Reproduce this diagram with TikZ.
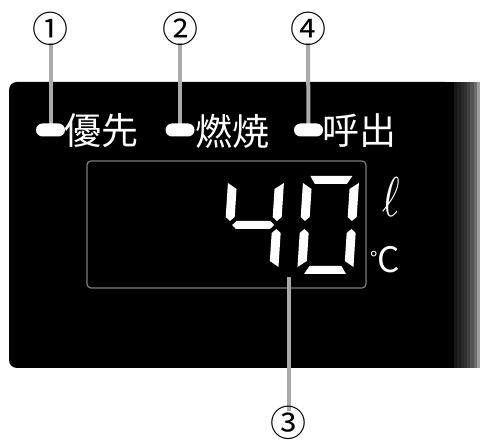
\documentclass[tikz,border=0pt]{standalone}
\usepackage{fontspec}
\newfontfamily\jpfont{Noto Sans CJK JP}
\definecolor{leadgray}{RGB}{170,170,170}
\definecolor{boxgray}{RGB}{125,125,125}
\tikzset{
  lead/.style={draw=leadgray, line width=4pt},
  pill/.style={fill=white, rounded corners=6.5pt, minimum width=29pt, minimum height=13pt, inner sep=0pt},
  label/.style={text=white, font=\jpfont\fontsize{37}{37}\selectfont, inner sep=0pt, anchor=west},
  num/.style={text=black, font=\jpfont\fontsize{36}{36}\selectfont, inner sep=0pt},
  seg/.style={fill=white, draw=none},
}
\begin{document}
\begin{tikzpicture}[x=1pt,y=1pt]
\useasboundingbox (0,0) rectangle (481,441);
% panel
\fill[black, rounded corners=8pt] (454,73) -- (9,73) -- (9,359) -- (454,359) -- cycle;
\fill[black] (440,73) rectangle (454.5,359);
\foreach \i/\g in {0/9,1/12,2/16,3/20,4/26,5/33,6/43,7/62}{
  \fill[fill=white!\g!black] ({454+\i*3.25},73) rectangle ({454+(\i+1)*3.25},359);
}
% display box
\draw[boxgray, line width=1.2pt, rounded corners=4pt] (87,153) rectangle (366,280);
% coordinates for leads
\coordinate (t1) at (50.5,398);
\coordinate (t2) at (180,398);
\coordinate (t4) at (308,398);
\coordinate (t3) at (288.5,30);
\coordinate (d3) at (288.5,164);
\coordinate (q1) at (50.5,311);
\coordinate (q2) at (180,311);
\coordinate (q4) at (308.5,311);
\draw[lead] (t1) -- (q1);
\draw[lead] (t2) -- (q2);
\draw[lead] (t4) -- (q4);
\draw[lead] (t3) -- (d3);
% pills and labels
\node[pill] (p1) at (q1) {};
\node[pill] (p2) at (q2) {};
\node[pill] (p4) at (q4) {};
\node[label] (l1) at (64,310) {優先};
\node[label] (l2) at (195,310) {燃焼};
\node[label] (l4) at (322,310) {呼出};
% circled numbers
\node[num] (c1) at (50.5,412) {①};
\node[num] (c2) at (180,412) {②};
\node[num] (c4) at (308,412) {④};
\node[num] (c3) at (288.5,18) {③};
% digit 4
\begin{scope}[shift={(222,167)}, xslant=0.065]
\fill[seg] (0,91) -- (0,57) -- (4.5,53) -- (9,57) -- (9,85) -- cycle;
\fill[seg] (56,91) -- (56,57) -- (51.5,53) -- (47,57) -- (47,85) -- cycle;
\fill[seg] (7,49) -- (11,53) -- (45,53) -- (49,49) -- (45,45) -- (11,45) -- cycle;
\fill[seg] (56,7) -- (56,41) -- (51.5,45) -- (47,41) -- (47,13) -- cycle;
\end{scope}
% digit 0
\begin{scope}[shift={(297,167)}, xslant=0.065]
\fill[seg] (7,98) -- (49,98) -- (44,90) -- (12,90) -- cycle;
\fill[seg] (0,91) -- (0,57) -- (4.5,53) -- (9,57) -- (9,85) -- cycle;
\fill[seg] (56,91) -- (56,57) -- (51.5,53) -- (47,57) -- (47,85) -- cycle;
\fill[seg] (0,7) -- (0,41) -- (4.5,45) -- (9,41) -- (9,13) -- cycle;
\fill[seg] (56,7) -- (56,41) -- (51.5,45) -- (47,41) -- (47,13) -- cycle;
\fill[seg] (7,0) -- (49,0) -- (44,8) -- (12,8) -- cycle;
\end{scope}
% units
\node[text=white, inner sep=0pt] (u1) at (391,244) {\scalebox{4.2}[5.6]{$\ell$}};
\node[text=white, inner sep=0pt, font=\jpfont\fontsize{35}{35}\selectfont, anchor=west] (u2) at (370,181) {{\fontsize{20}{20}\selectfont\raisebox{6pt}{°}}C};
\end{tikzpicture}
\end{document}
